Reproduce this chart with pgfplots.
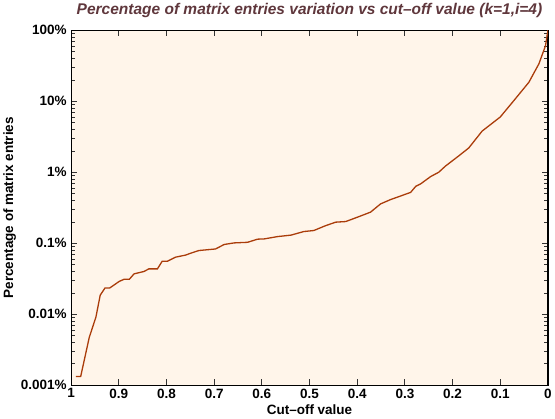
\documentclass[border=0pt]{standalone}
\usepackage{pgfplots}
\pgfplotsset{compat=1.18}
\usepackage{fontspec}
\setmainfont{Liberation Sans}
\definecolor{bgc}{RGB}{255,245,234}
\definecolor{linec}{RGB}{170,60,10}
\definecolor{titlec}{RGB}{95,55,60}
\begin{document}
\begin{tikzpicture}
\begin{axis}[
  width=477pt, height=355pt, scale only axis,
  x dir=reverse, xmin=0, xmax=1,
  ymode=log, ymin=0.001, ymax=100,
  axis background/.style={fill=bgc},
  tick align=inside,
  xtick={0,0.1,0.2,0.3,0.4,0.5,0.6,0.7,0.8,0.9,1},
  xticklabels={0,0.1,0.2,0.3,0.4,0.5,0.6,0.7,0.8,0.9,1},
  ytick={0.001,0.01,0.1,1,10,100},
  yticklabels={0.001\%,0.01\%,0.1\%,1\%,10\%,100\%},
  /pgf/number format/assume math mode=true,
  tick label style={font=\fontsize{13.5}{15}\selectfont\bfseries},
  major tick length=6pt, minor tick length=3.5pt,
  tick style={line width=0.8pt, color=black!80},
  minor tick style={line width=0.6pt},
  axis line style={line width=1.2pt},
  xlabel={\bfseries Cut--off value},
  ylabel={\bfseries Percentage of matrix entries},
  label style={font=\fontsize{13.5}{15}\selectfont},
  xlabel style={yshift=0pt},
  ylabel style={yshift=-2pt},
  yticklabel style={xshift=-1pt},
  title={\bfseries\itshape Percentage of matrix entries variation vs cut--off value (k=1,i=4)},
  title style={font=\fontsize{15.5}{17}\selectfont, text=titlec, yshift=3pt},
  xticklabel style={yshift=0pt},
]
\addplot[color=linec, line width=1.3pt, mark=none] coordinates {
(0.99,0.00132)(0.98,0.00132)(0.962,0.0047)(0.948,0.0091)(0.939,0.0185)
(0.929,0.0234)(0.919,0.0234)(0.899,0.029)(0.889,0.031)(0.878,0.031)
(0.868,0.037)(0.847,0.040)(0.837,0.0435)(0.819,0.0435)(0.809,0.0557)
(0.798,0.0557)(0.781,0.0636)(0.76,0.068)(0.75,0.072)(0.732,0.0789)
(0.697,0.083)(0.679,0.096)(0.658,0.101)(0.630,0.103)(0.609,0.114)
(0.595,0.115)(0.567,0.124)(0.539,0.130)(0.512,0.146)(0.491,0.151)
(0.466,0.177)(0.445,0.198)(0.424,0.202)(0.400,0.232)(0.372,0.274)
(0.351,0.358)(0.330,0.412)(0.312,0.455)(0.288,0.52)(0.277,0.635)
(0.267,0.685)(0.246,0.869)(0.229,1.0)(0.215,1.22)(0.187,1.7)
(0.166,2.2)(0.138,3.8)(0.10,6.0)(0.07,10.5)(0.04,18.5)
(0.019,33.6)(0.005,60.8)(0,100)
};
\end{axis}
\end{tikzpicture}
\end{document}
